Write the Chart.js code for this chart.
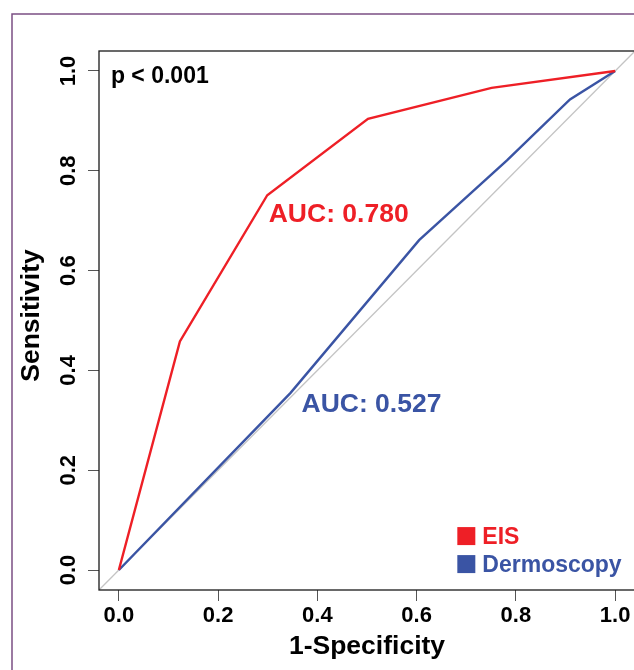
<!DOCTYPE html>
<html>
<head>
<meta charset="utf-8">
<script src="https://cdn.jsdelivr.net/npm/chart.js@4.4.1/dist/chart.umd.min.js"></script>
<style>
  html, body { margin: 0; padding: 0; background: #fff; overflow: hidden; }
  canvas { display: block; }
</style>
</head>
<body>
<canvas id="chart" width="640" height="670"></canvas>
<script>
const tickValues = [0, 0.2, 0.4, 0.6, 0.8, 1.0];
const tickLabels = ['0.0', '0.2', '0.4', '0.6', '0.8', '1.0'];

// ROC points (1-specificity, sensitivity)
const eisFpr = [0, 0.123, 0.299, 0.502, 0.751, 1];
const eisTpr = [0, 0.458, 0.751, 0.904, 0.966, 1];

const dermFpr = [0, 0.346, 0.605, 0.782, 0.909, 1];
const dermTpr = [0, 0.355, 0.661, 0.821, 0.943, 1];

// reference diagonal, drawn across the whole frame
const chanceLine = [-0.04, 1.04];

const seriesNames = ['EIS', 'Dermoscopy'];
const aucValues = ['0.780', '0.527'];
const pValueText = 'p < 0.001';
const yTitle = 'Sensitivity';

const FAMILY = "'Liberation Sans', Arial, Helvetica, sans-serif";
const RED = '#ee1f26';
const BLUE = '#3a54a4';

function font(size) {
    return 'bold ' + size + 'px ' + FAMILY;
}

function toPoints(xs, ys) {
    return xs.map((v, i) => ({ x: v, y: ys[i] }));
}

// where the text notes sit, in axis units
const notes = {
    pValue: { x: -0.016, y: 0.975 },
    eisAuc: { x: 0.302, y: 0.697 },
    dermAuc: { x: 0.368, y: 0.316 },
    legend: { x: 0.682, y: 0.052, rowGap: 28, box: 18 },
    yTitle: { px: 32, y: 0.51 }
};

const rocDecor = {
    id: 'rocDecor',
    beforeDraw(chart) {
        const ctx = chart.ctx;
        ctx.save();
        ctx.fillStyle = '#fff';
        ctx.fillRect(0, 0, chart.width, chart.height);
        // purple panel border (left and top visible)
        ctx.strokeStyle = '#7b4f84';
        ctx.lineWidth = 1.5;
        ctx.beginPath();
        ctx.moveTo(12, chart.height + 5);
        ctx.lineTo(12, 14);
        ctx.lineTo(chart.width + 5, 14);
        ctx.stroke();
        ctx.restore();
    },
    afterDraw(chart) {
        const ctx = chart.ctx;
        const a = chart.chartArea;
        const x = chart.scales.x;
        const y = chart.scales.y;
        ctx.save();

        ctx.strokeStyle = '#1a1a1a';
        ctx.lineWidth = 1.3;
        ctx.strokeRect(a.left, a.top, a.right - a.left, a.bottom - a.top);

        ctx.textBaseline = 'alphabetic';
        ctx.textAlign = 'left';

        ctx.font = font(23);
        ctx.fillStyle = '#000';
        ctx.fillText(pValueText, x.getPixelForValue(notes.pValue.x), y.getPixelForValue(notes.pValue.y));

        ctx.font = font(26.5);
        ctx.fillStyle = RED;
        ctx.fillText('AUC: ' + aucValues[0], x.getPixelForValue(notes.eisAuc.x), y.getPixelForValue(notes.eisAuc.y));
        ctx.fillStyle = BLUE;
        ctx.fillText('AUC: ' + aucValues[1], x.getPixelForValue(notes.dermAuc.x), y.getPixelForValue(notes.dermAuc.y));

        // legend
        const lg = notes.legend;
        const lx = x.getPixelForValue(lg.x);
        let ly = y.getPixelForValue(lg.y);
        ctx.font = font(23);
        chart.data.datasets.slice(0, 2).forEach(ds => {
            ctx.fillStyle = ds.borderColor;
            ctx.fillRect(lx, ly - lg.box + 1, lg.box, lg.box);
            ctx.fillText(ds.label, lx + lg.box + 7, ly);
            ly += lg.rowGap;
        });

        // y axis title, rotated like R's
        ctx.translate(notes.yTitle.px, y.getPixelForValue(notes.yTitle.y));
        ctx.rotate(-Math.PI / 2);
        ctx.font = font(26.5);
        ctx.fillStyle = '#000';
        ctx.textAlign = 'center';
        ctx.textBaseline = 'middle';
        ctx.fillText(yTitle, 0, 0);

        ctx.restore();
    }
};

const axisFont = { family: FAMILY, size: 22, weight: 'bold' };
const titleFont = { family: FAMILY, size: 26.5, weight: 'bold' };

const chart = new Chart(document.getElementById('chart').getContext('2d'), {
    type: 'scatter',
    data: {
        datasets: [
            {
                label: seriesNames[0],
                data: toPoints(eisFpr, eisTpr),
                showLine: true,
                borderColor: RED,
                borderWidth: 2.4,
                pointRadius: 0,
                order: 1
            },
            {
                label: seriesNames[1],
                data: toPoints(dermFpr, dermTpr),
                showLine: true,
                borderColor: BLUE,
                borderWidth: 2.4,
                pointRadius: 0,
                order: 2
            },
            {
                label: 'chance',
                data: toPoints(chanceLine, chanceLine),
                showLine: true,
                borderColor: '#c4c4c4',
                borderWidth: 1.3,
                pointRadius: 0,
                order: 3
            }
        ]
    },
    options: {
        responsive: false,
        animation: false,
        layout: { padding: { top: 51, right: 5, left: 0, bottom: 0 } },
        plugins: {
            legend: { display: false },
            tooltip: { enabled: false }
        },
        scales: {
            x: {
                type: 'linear',
                min: -0.04,
                max: 1.04,
                afterBuildTicks: s => { s.ticks = tickValues.map(v => ({ value: v })); },
                afterFit: s => { s.height = 80; },
                grid: { drawOnChartArea: false, drawTicks: true, tickLength: 11, color: '#555', lineWidth: 1 },
                border: { display: false },
                ticks: {
                    autoSkip: false,
                    maxRotation: 0,
                    padding: 2,
                    color: '#000',
                    font: axisFont,
                    callback: v => tickLabels[tickValues.indexOf(v)]
                },
                title: {
                    display: true,
                    text: '1-Specificity',
                    color: '#000',
                    font: titleFont,
                    padding: { top: 0, bottom: 7 }
                }
            },
            y: {
                type: 'linear',
                min: -0.04,
                max: 1.04,
                afterBuildTicks: s => { s.ticks = tickValues.map(v => ({ value: v })); },
                afterFit: s => { s.width = 99; },
                grid: { drawOnChartArea: false, drawTicks: true, tickLength: 11, color: '#555', lineWidth: 1 },
                border: { display: false },
                ticks: {
                    autoSkip: false,
                    minRotation: 90,
                    maxRotation: 90,
                    crossAlign: 'center',
                    padding: 4,
                    color: '#000',
                    font: axisFont,
                    callback: v => tickLabels[tickValues.indexOf(v)]
                },
                title: { display: false }
            }
        }
    },
    plugins: [rocDecor]
});
</script>
</body>
</html>
